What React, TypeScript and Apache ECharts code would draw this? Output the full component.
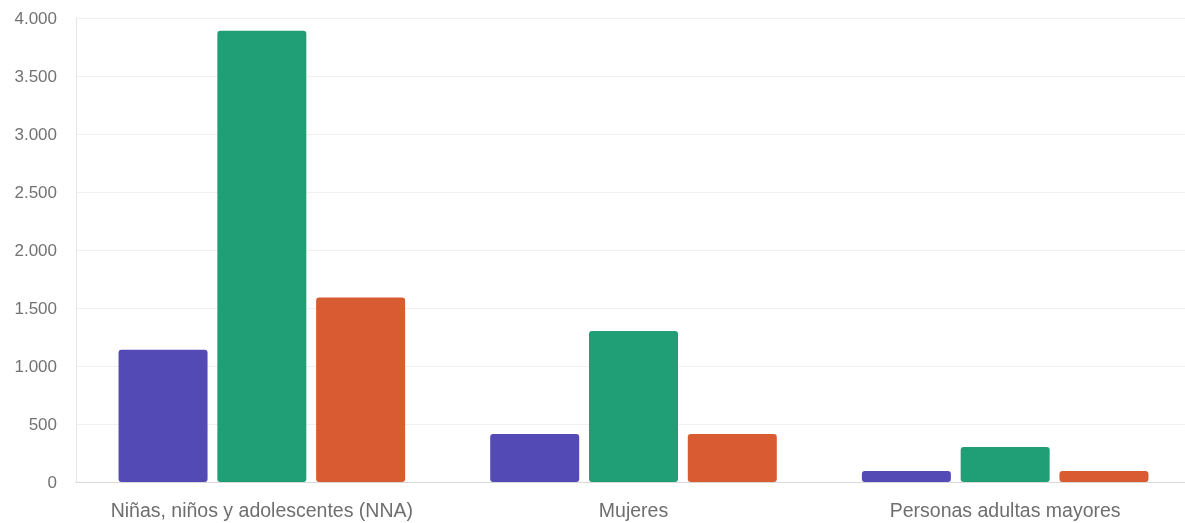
import React, { useEffect, useRef } from "react";
import * as echarts from "echarts";

const categories = ["Niñas, niños y adolescentes (NNA)", "Mujeres", "Personas adultas mayores"];
const seriesA = [1140, 414, 95];
const seriesB = [3890, 1302, 302];
const seriesC = [1590, 414, 95];
const colors = ["#544ab6", "#209e76", "#d85b31"];

export default function App() {
  const ref = useRef<HTMLDivElement>(null);
  useEffect(() => {
    document.body.style.margin = "0";
    document.body.style.overflow = "hidden";
    const chart = echarts.init(ref.current!, null, { renderer: "svg" });
    const fmt = (v: number) => v.toLocaleString("de-DE");
    const mk = (name: string, data: number[], color: string) => ({
      name,
      type: "bar",
      data,
      barWidth: 89,
      barGap: "11%",
      itemStyle: { color, borderRadius: 3 },
    });
    chart.setOption({
      animation: false,
      grid: { left: 76, right: 0, top: 18, bottom: 41 },
      xAxis: {
        type: "category",
        data: categories,
        axisLine: { lineStyle: { color: "#d9d9d9" } },
        axisTick: { show: false },
        axisLabel: {
          interval: 0,
          color: "#6e6e6e",
          fontSize: 19.5,
          fontFamily: "Liberation Sans, Arial, sans-serif",
          margin: 18,
        },
      },
      yAxis: {
        type: "value",
        min: 0,
        max: 4000,
        interval: 500,
        axisLine: { show: true, lineStyle: { color: "#e6e6e6" } },
        splitLine: { lineStyle: { color: "#f0f0f0" } },
        axisLabel: {
          color: "#727272",
          fontSize: 17,
          fontFamily: "Liberation Sans, Arial, sans-serif",
          margin: 19,
          formatter: (v: number) => fmt(v),
        },
      },
      series: [mk("A", seriesA, colors[0]), mk("B", seriesB, colors[1]), mk("C", seriesC, colors[2])],
    });
    return () => chart.dispose();
  }, []);
  return <div ref={ref} style={{ position: "fixed", left: 0, top: 0, width: 1191, height: 523 }} />;
}
